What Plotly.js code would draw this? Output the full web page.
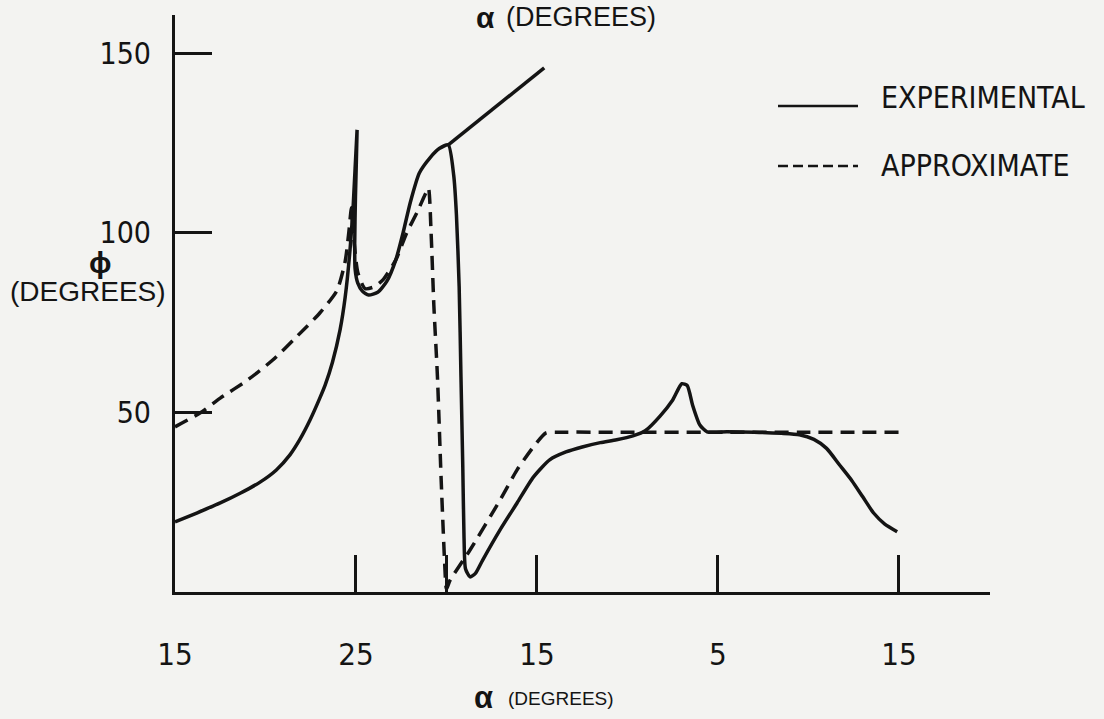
<!DOCTYPE html>
<html>
<head>
<meta charset="utf-8">
<script src="https://cdn.plot.ly/plotly-3.0.1.min.js"></script>
<style>
  html, body { margin: 0; padding: 0; background: #f3f3f1; }
  #chart { width: 1104px; height: 719px; }
</style>
</head>
<body>
<div id="chart"></div>
<script>
// Horizontal position along the alpha sweep (tick positions) and their labels
const tickPositions = [0, 10, 15, 20, 30, 40];
const tickLabels = ['15', '25', '', '15', '5', '15'];
const phiTicks = [50, 100, 150];

// EXPERIMENTAL (solid) — main branch, then (after null) the upper straight branch
const expX = [0, 1.2, 2.5, 3.6, 4.7, 5.6, 6.35, 6.9, 7.46, 8.0, 8.3, 8.7, 9.12, 9.4, 9.67, 9.85, 10.06,
              9.97, 9.93, 9.95, 10.1, 10.35, 10.7, 11.2, 11.7, 12.2, 12.6, 13.0, 13.5, 14.1, 14.6, 15.1,
              15.4, 15.55, 15.7, 15.8, 15.9, 15.97, 16.05, 16.3, 16.6, 17.0, 17.96, 18.9, 19.8, 20.7, 21.6, 22.5,
              23.5, 24.4, 25.3, 26.0, 26.8, 27.5, 28.0, 28.3, 28.6, 29.0, 29.4, 30.5, 32.0, 33.5, 34.5,
              35.3, 36.0, 36.7, 37.4, 38.0, 38.6, 39.2, 39.9,
              null, 15.1, 20.4];
const expY = [19.5, 22, 24.8, 27.5, 30.6, 34, 38.2, 42.5, 47.9, 54, 57.7, 64, 73, 82, 95.3, 108, 128.7,
              110, 97, 90, 86, 83.8, 82.7, 83.5, 86.5, 92.5, 100, 108.5, 116.7, 121, 123.5, 124.5,
              116, 105, 85, 60, 35, 15, 6.5, 4.2, 5.2, 8.9, 17.3, 24.8, 32, 36.8, 39, 40.4,
              41.6, 42.4, 43.5, 45, 49, 53.5, 58, 57.5, 52, 46.5, 44.6, 44.6, 44.5, 44.2, 43.8,
              42.5, 40, 35.5, 31, 26.5, 22, 19, 16.8,
              null, 124.5, 146];

// APPROXIMATE (dashed)
const apxX = [0, 1.4, 2.5, 4.0, 5.4, 6.7, 8.0, 8.95, 9.4, 9.6, 9.75, 9.85, 10.1, 10.5, 11.0, 11.5, 12.2, 12.8,
              13.4, 13.8, 14.0, 14.15, 14.3, 14.5, 14.7, 14.9, 15.0, 15.2, 16.3, 17.96, 18.9, 19.8, 20.5, 21.2,
              25, 30, 35, 40.05];
const apxY = [46, 49.9, 54, 59, 64.6, 71, 77.7, 84, 92, 100, 107, 100, 89, 84.5, 85, 87, 92.5, 100,
              106, 110.5, 112.5, 100, 80, 60, 32, 8, 0.8, 3.3, 11.7, 25.6, 34, 40.4, 44.3, 44.5,
              44.5, 44.5, 44.5, 44.5];

const NARROW = '"DejaVu Sans Condensed", "DejaVu Sans", sans-serif';
const WIDE = '"Liberation Sans", Arial, "DejaVu Sans", sans-serif';
const INK = '#141414';

// pixel -> paper helpers for the decorative text/legend placement
const L = 175, R = 990, T = 15, B = 592;
const px = v => (v - L) / (R - L);
const py = v => (B - v) / (B - T);

const traces = [
  { x: expX, y: expY, type: 'scatter', mode: 'lines', name: 'EXPERIMENTAL',
    line: { color: INK, width: 3.5, shape: 'spline', smoothing: 0.6 }, connectgaps: false, showlegend: false },
  { x: apxX, y: apxY, type: 'scatter', mode: 'lines', name: 'APPROXIMATE',
    line: { color: INK, width: 3.5, dash: '14px,8px', shape: 'spline', smoothing: 0.6 }, showlegend: false }
];

const layout = {
  width: 1104, height: 719,
  margin: { l: L, r: 1104 - R, t: T, b: 719 - B, pad: 0 },
  paper_bgcolor: '#f3f3f1', plot_bgcolor: '#f3f3f1',
  font: { family: NARROW, color: INK, size: 28 },
  showlegend: false,
  xaxis: {
    range: [0, 45.03], showgrid: false, zeroline: false,
    showline: true, linecolor: INK, linewidth: 3,
    ticks: 'inside', ticklen: 37, tickwidth: 3, tickcolor: INK,
    tickmode: 'array', tickvals: tickPositions, ticktext: tickLabels,
    ticklabelstandoff: 33,
    tickfont: { family: NARROW, size: 31, color: INK }
  },
  yaxis: {
    range: [0, 160.7], showgrid: false, zeroline: false,
    showline: true, linecolor: INK, linewidth: 3,
    ticks: 'inside', ticklen: 37, tickwidth: 3, tickcolor: INK,
    tickmode: 'array', tickvals: phiTicks, ticktext: phiTicks.map(String),
    ticklabelstandoff: 15,
    tickfont: { family: NARROW, size: 30, color: INK }
  },
  annotations: [
    // bottom axis title
    { xref: 'paper', yref: 'paper', x: px(472), y: py(697), text: '<b>α</b>', showarrow: false,
      font: { family: WIDE, size: 31, color: INK }, xanchor: 'left', yanchor: 'middle' },
    { xref: 'paper', yref: 'paper', x: px(506), y: py(698), text: '(DEGREES)', showarrow: false,
      font: { family: WIDE, size: 19, color: INK }, xanchor: 'left', yanchor: 'middle' },
    // top axis title
    { xref: 'paper', yref: 'paper', x: px(474), y: py(18), text: '<b>α</b>', showarrow: false,
      font: { family: WIDE, size: 30, color: INK }, xanchor: 'left', yanchor: 'middle' },
    { xref: 'paper', yref: 'paper', x: px(504), y: py(17), text: '(DEGREES)', showarrow: false,
      font: { family: WIDE, size: 27, color: INK }, xanchor: 'left', yanchor: 'middle' },
    // y axis title
    { xref: 'paper', yref: 'paper', x: px(100), y: py(262), text: '<b>ϕ</b>', showarrow: false,
      font: { family: WIDE, size: 30, color: INK }, xanchor: 'center', yanchor: 'middle' },
    { xref: 'paper', yref: 'paper', x: px(88), y: py(291), text: '(DEGREES)', showarrow: false,
      font: { family: WIDE, size: 28, color: INK }, xanchor: 'center', yanchor: 'middle' },
    // legend texts
    { xref: 'paper', yref: 'paper', x: px(879), y: py(97), text: 'EXPERIMENTAL', showarrow: false,
      font: { family: NARROW, size: 30, color: INK }, xanchor: 'left', yanchor: 'middle' },
    { xref: 'paper', yref: 'paper', x: px(879), y: py(165), text: 'APPROXIMATE', showarrow: false,
      font: { family: NARROW, size: 30, color: INK }, xanchor: 'left', yanchor: 'middle' }
  ],
  shapes: [
    { type: 'line', xref: 'paper', yref: 'paper', x0: px(778), x1: px(858), y0: py(106), y1: py(106),
      line: { color: INK, width: 2.5 } },
    { type: 'line', xref: 'paper', yref: 'paper', x0: px(778), x1: px(858), y0: py(166), y1: py(166),
      line: { color: INK, width: 2.5, dash: '10px,5px' } }
  ]
};

Plotly.newPlot('chart', traces, layout, { displayModeBar: false, staticPlot: true });
</script>
</body>
</html>
